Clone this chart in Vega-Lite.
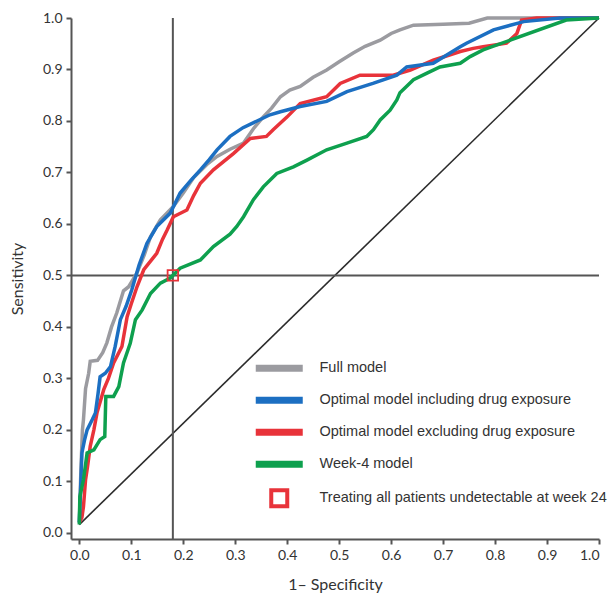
{
  "$schema": "https://vega.github.io/schema/vega-lite/v6.json",
  "width": 528,
  "height": 521,
  "autosize": "none",
  "padding": {"left": 71, "top": 18, "right": 12, "bottom": 54},
  "background": "white",
  "config": {
    "view": {"stroke": null},
    "axis": {"domainColor": "#555", "domainWidth": 2, "tickColor": "#555", "tickWidth": 2, "tickSize": 5, "labelFont": "Lato", "labelFontSize": 14, "labelColor": "#333", "titleFont": "Lato", "titleFontSize": 16, "titleFontWeight": "normal", "titleColor": "#333", "grid": false}
  },
  "datasets": {
    "curves": [
      {"model": "Full model", "x": 0, "y": 0.02}, {"model": "Full model", "x": 0.003, "y": 0.12}, {"model": "Full model", "x": 0.006, "y": 0.2}, {"model": "Full model", "x": 0.008, "y": 0.22}, {"model": "Full model", "x": 0.012, "y": 0.28}, {"model": "Full model", "x": 0.018, "y": 0.31}, {"model": "Full model", "x": 0.021, "y": 0.333}, {"model": "Full model", "x": 0.035, "y": 0.335}, {"model": "Full model", "x": 0.045, "y": 0.35}, {"model": "Full model", "x": 0.053, "y": 0.369}, {"model": "Full model", "x": 0.062, "y": 0.4}, {"model": "Full model", "x": 0.072, "y": 0.427}, {"model": "Full model", "x": 0.085, "y": 0.47}, {"model": "Full model", "x": 0.095, "y": 0.478}, {"model": "Full model", "x": 0.111, "y": 0.505}, {"model": "Full model", "x": 0.125, "y": 0.54}, {"model": "Full model", "x": 0.137, "y": 0.575}, {"model": "Full model", "x": 0.156, "y": 0.608}, {"model": "Full model", "x": 0.181, "y": 0.634}, {"model": "Full model", "x": 0.2, "y": 0.66}, {"model": "Full model", "x": 0.22, "y": 0.69}, {"model": "Full model", "x": 0.245, "y": 0.715}, {"model": "Full model", "x": 0.265, "y": 0.731}, {"model": "Full model", "x": 0.29, "y": 0.745}, {"model": "Full model", "x": 0.316, "y": 0.757}, {"model": "Full model", "x": 0.335, "y": 0.785}, {"model": "Full model", "x": 0.354, "y": 0.808}, {"model": "Full model", "x": 0.37, "y": 0.825}, {"model": "Full model", "x": 0.387, "y": 0.847}, {"model": "Full model", "x": 0.405, "y": 0.86}, {"model": "Full model", "x": 0.425, "y": 0.867}, {"model": "Full model", "x": 0.45, "y": 0.885}, {"model": "Full model", "x": 0.476, "y": 0.899}, {"model": "Full model", "x": 0.5, "y": 0.915}, {"model": "Full model", "x": 0.527, "y": 0.932}, {"model": "Full model", "x": 0.55, "y": 0.945}, {"model": "Full model", "x": 0.579, "y": 0.957}, {"model": "Full model", "x": 0.6, "y": 0.97}, {"model": "Full model", "x": 0.617, "y": 0.977}, {"model": "Full model", "x": 0.643, "y": 0.986}, {"model": "Full model", "x": 0.7, "y": 0.988}, {"model": "Full model", "x": 0.75, "y": 0.99}, {"model": "Full model", "x": 0.785, "y": 1.0}, {"model": "Full model", "x": 1.0, "y": 1.0},

      {"model": "Optimal model excluding drug exposure", "x": 0, "y": 0.02}, {"model": "Optimal model excluding drug exposure", "x": 0.005, "y": 0.03}, {"model": "Optimal model excluding drug exposure", "x": 0.008, "y": 0.051}, {"model": "Optimal model excluding drug exposure", "x": 0.012, "y": 0.103}, {"model": "Optimal model excluding drug exposure", "x": 0.016, "y": 0.13}, {"model": "Optimal model excluding drug exposure", "x": 0.021, "y": 0.168}, {"model": "Optimal model excluding drug exposure", "x": 0.028, "y": 0.2}, {"model": "Optimal model excluding drug exposure", "x": 0.034, "y": 0.233}, {"model": "Optimal model excluding drug exposure", "x": 0.047, "y": 0.278}, {"model": "Optimal model excluding drug exposure", "x": 0.056, "y": 0.3}, {"model": "Optimal model excluding drug exposure", "x": 0.066, "y": 0.33}, {"model": "Optimal model excluding drug exposure", "x": 0.082, "y": 0.362}, {"model": "Optimal model excluding drug exposure", "x": 0.092, "y": 0.42}, {"model": "Optimal model excluding drug exposure", "x": 0.1, "y": 0.445}, {"model": "Optimal model excluding drug exposure", "x": 0.111, "y": 0.478}, {"model": "Optimal model excluding drug exposure", "x": 0.124, "y": 0.511}, {"model": "Optimal model excluding drug exposure", "x": 0.149, "y": 0.543}, {"model": "Optimal model excluding drug exposure", "x": 0.16, "y": 0.57}, {"model": "Optimal model excluding drug exposure", "x": 0.169, "y": 0.588}, {"model": "Optimal model excluding drug exposure", "x": 0.181, "y": 0.614}, {"model": "Optimal model excluding drug exposure", "x": 0.207, "y": 0.627}, {"model": "Optimal model excluding drug exposure", "x": 0.22, "y": 0.655}, {"model": "Optimal model excluding drug exposure", "x": 0.233, "y": 0.679}, {"model": "Optimal model excluding drug exposure", "x": 0.258, "y": 0.705}, {"model": "Optimal model excluding drug exposure", "x": 0.297, "y": 0.737}, {"model": "Optimal model excluding drug exposure", "x": 0.329, "y": 0.766}, {"model": "Optimal model excluding drug exposure", "x": 0.36, "y": 0.77}, {"model": "Optimal model excluding drug exposure", "x": 0.373, "y": 0.783}, {"model": "Optimal model excluding drug exposure", "x": 0.4, "y": 0.808}, {"model": "Optimal model excluding drug exposure", "x": 0.425, "y": 0.834}, {"model": "Optimal model excluding drug exposure", "x": 0.476, "y": 0.847}, {"model": "Optimal model excluding drug exposure", "x": 0.502, "y": 0.873}, {"model": "Optimal model excluding drug exposure", "x": 0.54, "y": 0.889}, {"model": "Optimal model excluding drug exposure", "x": 0.604, "y": 0.889}, {"model": "Optimal model excluding drug exposure", "x": 0.637, "y": 0.899}, {"model": "Optimal model excluding drug exposure", "x": 0.681, "y": 0.918}, {"model": "Optimal model excluding drug exposure", "x": 0.733, "y": 0.935}, {"model": "Optimal model excluding drug exposure", "x": 0.758, "y": 0.941}, {"model": "Optimal model excluding drug exposure", "x": 0.777, "y": 0.944}, {"model": "Optimal model excluding drug exposure", "x": 0.822, "y": 0.951}, {"model": "Optimal model excluding drug exposure", "x": 0.842, "y": 0.97}, {"model": "Optimal model excluding drug exposure", "x": 0.851, "y": 0.996}, {"model": "Optimal model excluding drug exposure", "x": 0.88, "y": 1.0}, {"model": "Optimal model excluding drug exposure", "x": 1.0, "y": 1.0},

      {"model": "Optimal model including drug exposure", "x": 0, "y": 0.02}, {"model": "Optimal model including drug exposure", "x": 0.003, "y": 0.1}, {"model": "Optimal model including drug exposure", "x": 0.005, "y": 0.155}, {"model": "Optimal model including drug exposure", "x": 0.01, "y": 0.18}, {"model": "Optimal model including drug exposure", "x": 0.015, "y": 0.2}, {"model": "Optimal model including drug exposure", "x": 0.025, "y": 0.22}, {"model": "Optimal model including drug exposure", "x": 0.031, "y": 0.233}, {"model": "Optimal model including drug exposure", "x": 0.036, "y": 0.27}, {"model": "Optimal model including drug exposure", "x": 0.04, "y": 0.303}, {"model": "Optimal model including drug exposure", "x": 0.05, "y": 0.31}, {"model": "Optimal model including drug exposure", "x": 0.06, "y": 0.323}, {"model": "Optimal model including drug exposure", "x": 0.069, "y": 0.362}, {"model": "Optimal model including drug exposure", "x": 0.079, "y": 0.414}, {"model": "Optimal model including drug exposure", "x": 0.09, "y": 0.44}, {"model": "Optimal model including drug exposure", "x": 0.101, "y": 0.472}, {"model": "Optimal model including drug exposure", "x": 0.115, "y": 0.52}, {"model": "Optimal model including drug exposure", "x": 0.13, "y": 0.562}, {"model": "Optimal model including drug exposure", "x": 0.149, "y": 0.595}, {"model": "Optimal model including drug exposure", "x": 0.175, "y": 0.621}, {"model": "Optimal model including drug exposure", "x": 0.194, "y": 0.66}, {"model": "Optimal model including drug exposure", "x": 0.215, "y": 0.685}, {"model": "Optimal model including drug exposure", "x": 0.233, "y": 0.705}, {"model": "Optimal model including drug exposure", "x": 0.25, "y": 0.725}, {"model": "Optimal model including drug exposure", "x": 0.265, "y": 0.744}, {"model": "Optimal model including drug exposure", "x": 0.29, "y": 0.77}, {"model": "Optimal model including drug exposure", "x": 0.315, "y": 0.787}, {"model": "Optimal model including drug exposure", "x": 0.342, "y": 0.8}, {"model": "Optimal model including drug exposure", "x": 0.367, "y": 0.812}, {"model": "Optimal model including drug exposure", "x": 0.387, "y": 0.818}, {"model": "Optimal model including drug exposure", "x": 0.425, "y": 0.828}, {"model": "Optimal model including drug exposure", "x": 0.476, "y": 0.838}, {"model": "Optimal model including drug exposure", "x": 0.515, "y": 0.857}, {"model": "Optimal model including drug exposure", "x": 0.565, "y": 0.873}, {"model": "Optimal model including drug exposure", "x": 0.611, "y": 0.889}, {"model": "Optimal model including drug exposure", "x": 0.63, "y": 0.905}, {"model": "Optimal model including drug exposure", "x": 0.681, "y": 0.912}, {"model": "Optimal model including drug exposure", "x": 0.733, "y": 0.944}, {"model": "Optimal model including drug exposure", "x": 0.745, "y": 0.951}, {"model": "Optimal model including drug exposure", "x": 0.797, "y": 0.977}, {"model": "Optimal model including drug exposure", "x": 0.855, "y": 0.993}, {"model": "Optimal model including drug exposure", "x": 0.925, "y": 1.0}, {"model": "Optimal model including drug exposure", "x": 1.0, "y": 1.0},

      {"model": "Week-4 model", "x": 0, "y": 0.016}, {"model": "Week-4 model", "x": 0.001, "y": 0.07}, {"model": "Week-4 model", "x": 0.008, "y": 0.103}, {"model": "Week-4 model", "x": 0.015, "y": 0.155}, {"model": "Week-4 model", "x": 0.028, "y": 0.161}, {"model": "Week-4 model", "x": 0.04, "y": 0.181}, {"model": "Week-4 model", "x": 0.049, "y": 0.187}, {"model": "Week-4 model", "x": 0.051, "y": 0.265}, {"model": "Week-4 model", "x": 0.066, "y": 0.265}, {"model": "Week-4 model", "x": 0.076, "y": 0.284}, {"model": "Week-4 model", "x": 0.085, "y": 0.33}, {"model": "Week-4 model", "x": 0.098, "y": 0.368}, {"model": "Week-4 model", "x": 0.108, "y": 0.414}, {"model": "Week-4 model", "x": 0.121, "y": 0.433}, {"model": "Week-4 model", "x": 0.137, "y": 0.465}, {"model": "Week-4 model", "x": 0.156, "y": 0.485}, {"model": "Week-4 model", "x": 0.175, "y": 0.495}, {"model": "Week-4 model", "x": 0.194, "y": 0.514}, {"model": "Week-4 model", "x": 0.233, "y": 0.53}, {"model": "Week-4 model", "x": 0.258, "y": 0.556}, {"model": "Week-4 model", "x": 0.29, "y": 0.58}, {"model": "Week-4 model", "x": 0.303, "y": 0.595}, {"model": "Week-4 model", "x": 0.316, "y": 0.614}, {"model": "Week-4 model", "x": 0.335, "y": 0.647}, {"model": "Week-4 model", "x": 0.354, "y": 0.672}, {"model": "Week-4 model", "x": 0.38, "y": 0.698}, {"model": "Week-4 model", "x": 0.412, "y": 0.711}, {"model": "Week-4 model", "x": 0.438, "y": 0.724}, {"model": "Week-4 model", "x": 0.476, "y": 0.744}, {"model": "Week-4 model", "x": 0.515, "y": 0.757}, {"model": "Week-4 model", "x": 0.553, "y": 0.77}, {"model": "Week-4 model", "x": 0.566, "y": 0.783}, {"model": "Week-4 model", "x": 0.579, "y": 0.802}, {"model": "Week-4 model", "x": 0.598, "y": 0.821}, {"model": "Week-4 model", "x": 0.611, "y": 0.841}, {"model": "Week-4 model", "x": 0.617, "y": 0.855}, {"model": "Week-4 model", "x": 0.643, "y": 0.88}, {"model": "Week-4 model", "x": 0.669, "y": 0.893}, {"model": "Week-4 model", "x": 0.694, "y": 0.905}, {"model": "Week-4 model", "x": 0.733, "y": 0.912}, {"model": "Week-4 model", "x": 0.752, "y": 0.925}, {"model": "Week-4 model", "x": 0.777, "y": 0.938}, {"model": "Week-4 model", "x": 0.937, "y": 0.996}, {"model": "Week-4 model", "x": 1.0, "y": 1.0}
    ],
    "diagonal": [{"x": 0, "y": 0.016}, {"x": 1, "y": 1}],
    "refx": [{"x": 0.18}],
    "refy": [{"y": 0.5}],
    "marker": [{"model": "Treating all patients undetectable at week 24", "x": 0.18, "y": 0.5}]
  },
  "layer": [
    {
      "data": {"name": "diagonal"},
      "mark": {"type": "line", "color": "#2b2b2b", "strokeWidth": 1.6},
      "encoding": {
        "x": {"field": "x", "type": "quantitative", "scale": {"domain": [-0.016, 1], "nice": false, "zero": false},
          "axis": {"title": "1– Specificity", "values": [0, 0.1, 0.2, 0.3, 0.4, 0.5, 0.6, 0.7, 0.8, 0.9, 1], "format": ".1f", "labelPadding": 4, "titlePadding": 14}},
        "y": {"field": "y", "type": "quantitative", "scale": {"domain": [-0.012, 1], "nice": false, "zero": false},
          "axis": {"title": "Sensitivity", "values": [0, 0.1, 0.2, 0.3, 0.4, 0.5, 0.6, 0.7, 0.8, 0.9, 1], "format": ".1f", "labelPadding": 4, "titlePadding": 17}}
      }
    },
    {
      "data": {"name": "refy"},
      "mark": {"type": "rule", "color": "#555", "strokeWidth": 2},
      "encoding": {"y": {"field": "y", "type": "quantitative"}}
    },
    {
      "data": {"name": "refx"},
      "mark": {"type": "rule", "color": "#555", "strokeWidth": 2},
      "encoding": {"x": {"field": "x", "type": "quantitative"}}
    },
    {
      "data": {"name": "curves"},
      "mark": {"type": "line", "strokeWidth": 3.5, "strokeJoin": "miter"},
      "encoding": {
        "x": {"field": "x", "type": "quantitative"},
        "y": {"field": "y", "type": "quantitative"},
        "color": {
          "field": "model", "type": "nominal",
          "scale": {
            "domain": ["Full model", "Optimal model including drug exposure", "Optimal model excluding drug exposure", "Week-4 model", "Treating all patients undetectable at week 24"],
            "range": ["#9b9ba0", "#1c6fc2", "#e8333a", "#0ea04e", "#e8333a"]
          },
          "legend": {
            "orient": "none", "legendX": 201, "legendY": 343, "title": null,
            "symbolType": "M-4.7,0H4.7", "symbolSize": 100, "symbolStrokeWidth": 7,
            "labelFont": "Liberation Sans", "labelFontSize": 14.5, "labelColor": "#333", "labelOffset": 33, "labelLimit": 400,
            "rowPadding": 3, "padding": 0,
            "encode": {
              "symbols": {
                "update": {
                  "shape": {"signal": "datum.value === 'Treating all patients undetectable at week 24' ? 'M-1.6,-1.6H1.6V1.6H-1.6Z' : 'M-4.7,0H4.7'"},
                  "strokeWidth": {"signal": "datum.value === 'Treating all patients undetectable at week 24' ? 4 : 7"},
                  "fill": {"signal": "datum.value === 'Treating all patients undetectable at week 24' ? '#ffffff' : 'transparent'"},
                  "stroke": {"signal": "datum.value === 'Full model' ? '#9b9ba0' : datum.value === 'Optimal model including drug exposure' ? '#3b3994' : datum.value === 'Week-4 model' ? '#0ea04e' : '#e8333a'"}
                }
              }
            }
          }
        }
      }
    },
    {
      "data": {"name": "marker"},
      "mark": {"type": "point", "shape": "square", "size": 110, "strokeWidth": 1.8, "filled": false, "opacity": 1},
      "encoding": {
        "x": {"field": "x", "type": "quantitative"},
        "y": {"field": "y", "type": "quantitative"},
        "color": {"field": "model", "type": "nominal"}
      }
    }
  ]
}
